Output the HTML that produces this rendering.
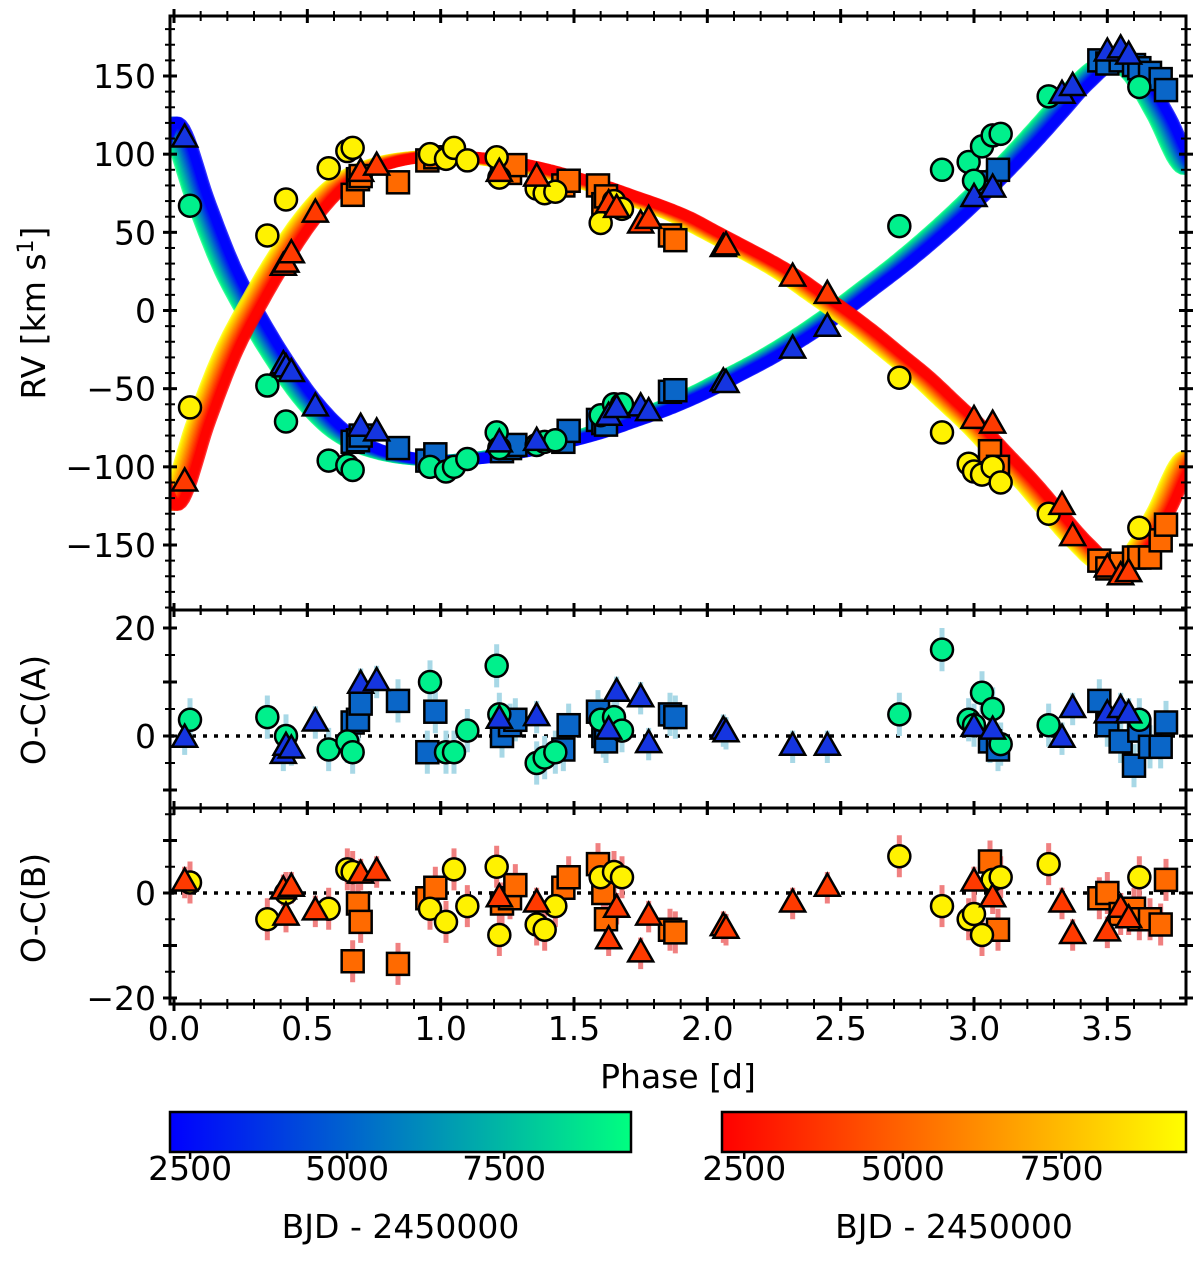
<!DOCTYPE html>
<html><head><meta charset="utf-8"><style>
body{margin:0;background:#fff}
svg{display:block;font-family:"DejaVu Sans","Liberation Sans",sans-serif}
</style></head><body>
<svg id="chart" width="1200" height="1265" viewBox="0 0 1200 1265" xmlns="http://www.w3.org/2000/svg">
<defs>
<linearGradient id="gA" x1="0" x2="1" y1="0" y2="0"><stop offset="0" stop-color="#0000ff"/><stop offset="0.5" stop-color="#0080c0"/><stop offset="1" stop-color="#00ff80"/></linearGradient>
<linearGradient id="gB" x1="0" x2="1" y1="0" y2="0"><stop offset="0" stop-color="#ff0000"/><stop offset="1" stop-color="#ffff00"/></linearGradient>
</defs>
</svg>
<script>
const curvePhase=[0,0.1,0.2,0.3,0.4,0.5,0.6,0.7,0.8,0.9,1.0,1.1,1.2,1.3,1.4,1.5,1.6,1.7,1.8,1.9,2.0,2.1,2.2,2.3,2.4,2.5,2.6,2.7,2.8,2.9,3.0,3.1,3.2,3.3,3.4,3.5,3.6,3.7,3.8];
const curveA=[118,70,27,-5,-33,-57,-75,-86,-92,-95,-96,-95,-93,-90,-86,-82,-77,-71,-65,-58,-50,-41,-32,-22,-11,1,14,27,41,56,72,89,107,126,145,158,152,125,92];
const curveB=[-122,-72,-28,5,34,59,78,89,95,98,99,98,96,93,89,84,79,73,67,60,51,42,33,23,11,-1,-14,-28,-42,-58,-74,-92,-110,-130,-149,-163,-157,-129,-95];

const phC=[0.06,0.35,0.42,0.58,0.65,0.67,0.96,1.02,1.05,1.10,1.21,1.22,1.36,1.39,1.43,1.60,1.65,1.68,2.72,2.88,2.98,3.00,3.03,3.07,3.10,3.28,3.62];
const rvA_C=[67,-48,-71,-96,-99,-102,-100,-103,-100,-95,-78,-88,-86,-84,-83,-67,-60,-60,54,90,95,83,105,112,113,137,143];
const rvB_C=[-62,48,71,91,102,104,100,97,104,96,98,85,78,75,76,56,70,65,-43,-78,-98,-103,-105,-100,-110,-130,-139];
const ocA_C=[3,3.5,0,-2.5,-1,-3,10,-3,-3,1,13,4,-5,-4,-3,3,3.5,1,4,16,3,2,8,5,-1.5,2,3];
const ocB_C=[2,-5,0,-3,4.5,4,-3,-5.5,4.5,-2.5,5,-8,-6,-7,-2.5,3,4,3,7,-2.5,-5,-4,-8,2.5,3,5.5,3];

const phS=[0.67,0.69,0.70,0.84,0.95,0.98,1.23,1.26,1.28,1.46,1.48,1.59,1.61,1.62,1.86,1.88,3.06,3.09,3.47,3.50,3.55,3.60,3.62,3.66,3.70,3.72];
const rvA_S=[-84,-83,-80,-88,-96,-92,-90,-88,-86,-84,-77,-70,-72,-73,-52,-51,82,90,160,158,160,157,155,152,148,141];
const rvB_S=[74,84,86,82,96,98,92,88,93,80,83,80,68,73,48,45,-90,-100,-160,-165,-162,-158,-158,-158,-147,-137];
const ocA_S=[2.5,3,6,6.5,-3,4.5,0,2,3,-2.5,2,4.5,0,-1,4,3.5,-1,-2.5,6.5,2,-1,-5.5,1,-2,-2,2.5];
const ocB_S=[-13,-2,-5.5,-13.5,-1,1,-2,-1,1.5,1,3,5.5,0,-5,-7,-7.5,6,-7,-1,0,-4,-3,-5,-5,-6,2.5];

const phT=[0.04,0.41,0.42,0.44,0.53,0.70,0.76,1.22,1.36,1.63,1.66,1.75,1.78,2.06,2.07,2.32,2.45,3.00,3.07,3.33,3.37,3.50,3.55,3.58];
const rvA_T=[110,-35,-37,-40,-62,-75,-78,-85,-84,-68,-63,-62,-65,-46,-47,-25,-11,72,78,138,143,165,167,163];
const rvB_T=[-110,28,30,36,62,88,92,88,85,68,65,55,58,40,41,21,10,-70,-73,-125,-145,-165,-170,-168];
const ocA_T=[-0.5,-3.5,-2,-2.5,2.5,9.5,10,3,3.5,1,8,7,-1.5,1,0.5,-2,-2,1.5,1,-0.5,5,4,5,4];
const ocB_T=[2,0.5,-4.5,1,-3.5,3.5,4,-1,-2,-9,-3,-11.5,-4.5,-6.5,-7,-2,1,2,-1,-2,-8,-7.5,-3,-5];
const errC=4, errS=4, errT=3;

const xTicks=[0,0.5,1,1.5,2,2.5,3,3.5];
const xTickLabels=["0.0","0.5","1.0","1.5","2.0","2.5","3.0","3.5"];
const topTicks=[-150,-100,-50,0,50,100,150];
const midTicks=[0,20];
const botTicks=[-20,0];
const cbTicks=[2500,5000,7500];

const NS="http://www.w3.org/2000/svg";
const svg=document.getElementById('chart');
function mk(tag,attrs,parent){const e=document.createElementNS(NS,tag);for(const k in attrs)e.setAttribute(k,attrs[k]);(parent||svg).appendChild(e);return e;}

const X0=170,X1=1186,PMIN=-0.015,PMAX=3.795;
const x=p=>X0+(p-PMIN)/(PMAX-PMIN)*(X1-X0);
const T0=16,T1=610,M1=808,B1=1004;
const yTop=v=>310.5-v*1.5633;
const yMid=v=>736-v*5.4;
const yBot=v=>893-v*5.25;

function interp(arr,p){
  const n=arr.length;let t=p/0.1;let i=Math.floor(t);
  if(i<0){i=0;} if(i>n-2){i=n-2;}
  const f=t-i;
  const p0=arr[Math.max(i-1,0)],p1=arr[i],p2=arr[i+1],p3=arr[Math.min(i+2,n-1)];
  return 0.5*((2*p1)+(-p0+p2)*f+(2*p0-5*p1+4*p2-p3)*f*f+(-p0+3*p1-3*p2+p3)*f*f*f);
}
function lerpCol(c1,c2,t){return 'rgb('+c1.map((v,i)=>Math.round(v+(c2[i]-v)*t)).join(',')+')';}

const clip=mk('clipPath',{id:'clipTop'});mk('rect',{x:X0,y:T0,width:X1-X0,height:T1-T0},clip);
const bandG=mk('g',{'clip-path':'url(#clipTop)'});


function band(arr,cStart,cEnd,name){
  const N=16;
  for(let k=0;k<N;k++){
    const t=k/(N-1);const sh=-0.035+0.07*t;
    let d='';
    for(let p=-0.05;p<=3.85;p+=0.01){const v=interp(arr,p-sh);d+=(d?'L':'M')+x(p).toFixed(1)+','+yTop(v).toFixed(1);}
    const pa=mk('path',{d:d,fill:'none',stroke:lerpCol(cStart,cEnd,t),'stroke-width':11,'stroke-opacity':0.8,'stroke-linejoin':'round'},bandG);
    
    
  }
}
band(curveA,[0,255,128],[0,0,255],'model-band-a');
band(curveB,[255,255,0],[255,0,0],'model-band-b');

[[yMid(0),'oc-a-zero-line'],[yBot(0),'oc-b-zero-line']].forEach(([yy,nm])=>{
  const l=mk('line',{x1:X0,x2:X1,y1:yy,y2:yy,stroke:'#000','stroke-width':3.5,'stroke-dasharray':'4 7'});
  
  
});

function marker(shape,cx,cy,fill,name){
  let e;
  if(shape==='c')e=mk('circle',{cx:cx,cy:cy,r:11,fill:fill,stroke:'#000','stroke-width':2.5});
  else if(shape==='s')e=mk('rect',{x:cx-11,y:cy-11,width:22,height:22,fill:fill,stroke:'#000','stroke-width':2.5});
  else e=mk('polygon',{points:(cx)+','+(cy-14)+' '+(cx-12.5)+','+(cy+8)+' '+(cx+12.5)+','+(cy+8),fill:fill,stroke:'#000','stroke-width':2.5,'stroke-linejoin':'miter'});
  
  
}
function errbar(cx,v,err,ys,col,name){
  const l=mk('line',{x1:cx,x2:cx,y1:ys(v-err),y2:ys(v+err),stroke:col,'stroke-width':5});
  
  
}
const sets=[
 {ph:phS,a:rvA_S,b:rvB_S,oa:ocA_S,ob:ocB_S,sh:'s',ca:'#0a66c8',cb:'#ff6a00',err:errS,n:'square'},
 {ph:phC,a:rvA_C,b:rvB_C,oa:ocA_C,ob:ocB_C,sh:'c',ca:'#00f08c',cb:'#fff200',err:errC,n:'circle'},
 {ph:phT,a:rvA_T,b:rvB_T,oa:ocA_T,ob:ocB_T,sh:'t',ca:'#1535e0',cb:'#ff3a00',err:errT,n:'triangle'}
];
sets.forEach(s=>{s.ph.forEach((p,i)=>{
  errbar(x(p),s.oa[i],s.err,yMid,'#a8d8e6','oc-a-errorbar');
  errbar(x(p),s.ob[i],s.err,yBot,'#f08080','oc-b-errorbar');
});});
sets.forEach(s=>{s.ph.forEach((p,i)=>{
  marker(s.sh,x(p),yTop(s.b[i]),s.cb,'rv-b-'+s.n);
  marker(s.sh,x(p),yTop(s.a[i]),s.ca,'rv-a-'+s.n);
  marker(s.sh,x(p),yMid(s.oa[i]),s.ca,'oc-a-'+s.n);
  marker(s.sh,x(p),yBot(s.ob[i]),s.cb,'oc-b-'+s.n);
});});

function frame(y0,y1,name){
  const r=mk('rect',{x:X0,y:y0,width:X1-X0,height:y1-y0,fill:'none',stroke:'#000','stroke-width':3});
  
  
  for(let p=0;p<=3.8;p+=0.1){
    const pr=Math.round(p*10)/10;const maj=Math.abs(pr*2-Math.round(pr*2))<1e-6;const L=maj?7:5;
    [y0,y1].forEach(yy=>mk('line',{x1:x(pr),x2:x(pr),y1:yy-L,y2:yy+L,stroke:'#000','stroke-width':maj?3:2}));
  }
}
frame(T0,T1,'rv-panel-frame');frame(T1,M1,'oc-a-panel-frame');frame(M1,B1,'oc-b-panel-frame');
function yticks(ys,vmin,vmax,step,majStep,y0,y1){
  for(let v=Math.ceil(vmin/step)*step;v<=vmax;v+=step){
    const yy=ys(v);if(yy<y0-0.5||yy>y1+0.5)continue;const maj=Math.abs(v%majStep)<1e-6;const L=maj?7:5;
    [X0,X1].forEach(xx=>mk('line',{x1:xx-L,x2:xx+L,y1:yy,y2:yy,stroke:'#000','stroke-width':maj?3:2}));
  }
}
yticks(yTop,-190,190,10,50,T0,T1);yticks(yMid,-15,25,5,10,T1,M1);yticks(yBot,-25,20,5,10,M1,B1);
function ylabels(ticks,ys,nm){ticks.forEach(v=>{const t=mk('text',{x:X0-14,y:ys(v)+12,'font-size':33,'text-anchor':'end'});t.textContent=(v<0?'\u2212'+(-v):''+v);
  
  });}
ylabels(topTicks,yTop,'rv-y-tick-label');ylabels(midTicks,yMid,'oc-a-y-tick-label');ylabels(botTicks,yBot,'oc-b-y-tick-label');
xTicks.forEach((v,i)=>{const t=mk('text',{x:x(v),y:1040,'font-size':33,'text-anchor':'middle'});t.textContent=xTickLabels[i];
  
  });
function txt(s,xx,yy,rot,nm){const t=mk('text',{x:xx,y:yy,'font-size':33,'text-anchor':'middle',transform:rot?'rotate(-90 '+xx+' '+yy+')':''});t.textContent=s;
  
  return t;}
const yl=txt('',45,313,true,'rv-y-axis-title');yl.innerHTML='RV [km s<tspan font-size="22" dy="-12">1</tspan><tspan dy="12">]</tspan>';
txt('O-C(A)',45,710,true,'oc-a-y-axis-title');
txt('O-C(B)',45,908,true,'oc-b-y-axis-title');
txt('Phase [d]',678,1088,false,'x-axis-title');

function cbar(x0,x1,grad,v0,v1,nm){
  const r=mk('rect',{x:x0,y:1112,width:x1-x0,height:40,fill:'url(#'+grad+')',stroke:'#000','stroke-width':2.5});
  
  
  const cx=v=>x0+(v-v0)/(v1-v0)*(x1-x0);
  cbTicks.forEach(v=>{mk('line',{x1:cx(v),x2:cx(v),y1:1152,y2:1159,stroke:'#000','stroke-width':2.5});
    const t=mk('text',{x:cx(v),y:1180,'font-size':33,'text-anchor':'middle'});t.textContent=v;
    
    });
  txt('BJD - 2450000',(x0+x1)/2,1238,false,'colorbar-title');
}
cbar(170,631,'gA',2180,9520,'colorbar-a');
cbar(722,1186,'gB',2150,9460,'colorbar-b');
</script>
</body></html>
